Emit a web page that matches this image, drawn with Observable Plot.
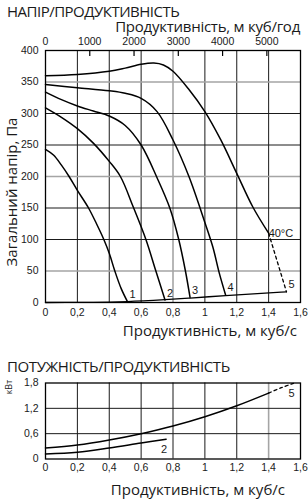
<!DOCTYPE html>
<html><head><meta charset="utf-8">
<script src="https://cdn.jsdelivr.net/npm/d3@7"></script>
<script src="https://cdn.jsdelivr.net/npm/@observablehq/plot@0.6"></script>
<style>
body{margin:0;background:#fff;}
#wrap{position:relative;width:308px;height:500px;overflow:hidden;font-family:"Open Sans",sans-serif;color:#1a1a1a;}
.t{position:absolute;white-space:nowrap;line-height:1;}
#wrap svg{position:absolute;left:0;}
</style></head><body><div id="wrap"></div>
<script>
// ---- axis / tick data ----
const flowTicks = [0, 0.2, 0.4, 0.6, 0.8, 1, 1.2, 1.4, 1.6];
const pressTicks = [0, 50, 100, 150, 200, 250, 300, 350, 400];
const hourTicks = [0, 1000, 2000, 3000, 4000, 5000];
const grayPress = [350, 200, 50];
const grayFlow = [0.8];
const powerTicks = [0, 0.6, 1.2, 1.8];
const grayFlowPower = [1.4];
const curveLabels = ["1", "2", "3", "4", "5"];
const tempLabel = "40°C";

// ---- pressure curves (m³/s, Pa) ----
const q1 = [0, 0.05, 0.1, 0.148, 0.2, 0.27, 0.32, 0.366, 0.4, 0.435, 0.475, 0.515];
const p1 = [243, 234, 218, 200, 178, 150, 125, 100, 78, 50, 22, 1];
const q2 = [0, 0.1, 0.2, 0.3, 0.4, 0.47, 0.55, 0.63, 0.69, 0.75];
const p2 = [309, 294, 276, 253, 224, 200, 152, 100, 52, 4];
const q3 = [0, 0.1, 0.2, 0.3, 0.4, 0.5, 0.6, 0.7, 0.78, 0.836, 0.878, 0.907];
const p3 = [334, 322, 312, 304, 296, 281, 250, 198, 150, 100, 50, 8];
const q4 = [0, 0.2, 0.4, 0.5, 0.6, 0.7, 0.8, 0.9, 1.0, 1.05, 1.09, 1.13];
const p4 = [346, 341, 336, 332, 324, 303, 258, 200, 127, 88, 47, 12];
const q5 = [0, 0.2, 0.4, 0.5, 0.6, 0.68, 0.74, 0.8, 0.9, 1.0, 1.1, 1.2, 1.3, 1.4];
const p5 = [360, 362, 367, 372, 378, 380, 377, 367, 338, 303, 258, 205, 152, 110];
const q5dash = [1.4, 1.512];
const p5dash = [110, 17];
const qSys = [0, 0.3, 0.515, 0.75, 0.907, 1.13, 1.512];
const pSys = [0, 0.3, 1.5, 4.5, 7, 11, 17];

// ---- power curves (m³/s, kW) ----
const qPow5 = [0, 0.2, 0.4, 0.6, 0.8, 1.0, 1.2, 1.4];
const wPow5 = [0.26, 0.33, 0.45, 0.6, 0.78, 1.0, 1.26, 1.56];
const qPow5dash = [1.4, 1.48, 1.556];
const wPow5dash = [1.56, 1.69, 1.79];
const qPow2 = [0, 0.2, 0.4, 0.6, 0.757];
const wPow2 = [0.12, 0.16, 0.26, 0.38, 0.47];

const pts = (q, p) => q.map((x, i) => ({x, y: p[i]}));
const last = (q, p) => ({x: q[q.length - 1], y: p[p.length - 1]});
const fmt = d => String(+(+d).toFixed(1)).replace(".", ",");
const tickFont = {fontFamily: "'Liberation Sans', Arial, sans-serif", fontSize: "10.5px", color: "#1a1a1a", background: "transparent", overflow: "visible"};
const lineOpt = {x: "x", y: "y", curve: "catmull-rom", stroke: "#000", strokeWidth: 1.5};

const pressCurves = [pts(q1, p1), pts(q2, p2), pts(q3, p3), pts(q4, p4), pts(q5, p5)];
const ends = [last(q1, p1), last(q2, p2), last(q3, p3), last(q4, p4), last(q5dash, p5dash)]
  .map((d, i) => ({...d, label: curveLabels[i]}));

const chart1 = Plot.plot({
  width: 308, height: 322, marginLeft: 45, marginRight: 8, marginTop: 50, marginBottom: 20,
  style: tickFont,
  x: {domain: [0, 1.6]}, y: {domain: [0, 400]},
  marks: [
    Plot.ruleX(flowTicks.slice(1, -1).filter(d => !grayFlow.includes(d)), {stroke: "#1a1a1a", strokeWidth: 1}),
    Plot.ruleX(grayFlow, {stroke: "#a5a5a5", strokeWidth: 1.6}),
    Plot.ruleY(pressTicks.slice(1, -1).filter(d => !grayPress.includes(d)), {stroke: "#1a1a1a", strokeWidth: 1}),
    Plot.ruleY(grayPress, {stroke: "#a5a5a5", strokeWidth: 1.6}),
    Plot.frame({stroke: "#000", strokeWidth: 1.3}),
    Plot.tickX(hourTicks.slice(1), {x: d => d / 3600, insetBottom: 246, stroke: "#000", strokeWidth: 1.2}),
    Plot.axisX({anchor: "top", ticks: hourTicks.map(d => d / 3600), tickFormat: d => String(Math.round(d * 3600)), tickSize: 0, tickPadding: 6, label: null}),
    Plot.axisX({anchor: "bottom", ticks: flowTicks, tickFormat: fmt, tickSize: 0, tickPadding: 6, label: null}),
    Plot.axisY({ticks: pressTicks, tickSize: 0, tickPadding: 7, label: null}),
    ...pressCurves.map(c => Plot.line(c, lineOpt)),
    Plot.line(pts(q5dash, p5dash), {x: "x", y: "y", stroke: "#000", strokeWidth: 1.3, strokeDasharray: "3,3"}),
    Plot.line(pts(qSys, pSys), {...lineOpt, curve: "monotone-x", strokeWidth: 1.3}),
    Plot.text(ends, {x: "x", y: "y", text: "label", textAnchor: "start", dx: 2, dy: -7, fontSize: 11}),
    Plot.text([last(q5, p5)], {x: "x", y: "y", text: () => tempLabel, textAnchor: "start", dx: 0, dy: 0, fontSize: 11})
  ]
});

const chart2 = Plot.plot({
  width: 308, height: 110, marginLeft: 45, marginRight: 8, marginTop: 12.5, marginBottom: 21.5,
  style: tickFont,
  x: {domain: [0, 1.6]}, y: {domain: [0, 1.8]},
  marks: [
    Plot.ruleX(flowTicks.slice(1, -1).filter(d => !grayFlowPower.includes(d)), {stroke: "#1a1a1a", strokeWidth: 1}),
    Plot.ruleX(grayFlowPower, {stroke: "#a5a5a5", strokeWidth: 1.6}),
    Plot.ruleY(powerTicks.slice(1, -1), {stroke: "#1a1a1a", strokeWidth: 1}),
    Plot.frame({stroke: "#000", strokeWidth: 1.3}),
    Plot.axisX({anchor: "bottom", ticks: flowTicks, tickFormat: fmt, tickSize: 0, tickPadding: 5, label: null}),
    Plot.axisY({ticks: powerTicks, tickFormat: fmt, tickSize: 0, tickPadding: 7, label: null}),
    Plot.line(pts(qPow5, wPow5), lineOpt),
    Plot.line(pts(qPow5dash, wPow5dash), {x: "x", y: "y", curve: "catmull-rom", stroke: "#000", strokeWidth: 1.3, strokeDasharray: "3,3"}),
    Plot.line(pts(qPow2, wPow2), lineOpt),
    Plot.text([{...last(qPow5dash, wPow5dash), label: curveLabels[4]}, {...last(qPow2, wPow2), label: curveLabels[1]}],
      {x: "x", y: "y", text: "label", textAnchor: "middle", dx: -2, dy: 10, fontSize: 11})
  ]
});

const wrap = document.getElementById("wrap");
chart1.style.top = "0px";
chart2.style.top = "370px";
wrap.appendChild(chart1);
wrap.appendChild(chart2);

function addText(txt, css) {
  const d = document.createElement("div");
  d.className = "t";
  d.textContent = txt;
  Object.assign(d.style, css);
  wrap.appendChild(d);
}
addText("НАПІР/ПРОДУКТИВНІСТЬ", {left: "7px", top: "4px", fontSize: "15px", letterSpacing: "-0.5px"});
addText("Продуктивність, м куб/год", {right: "8px", top: "19px", fontSize: "15px", letterSpacing: "-0.25px"});
addText("Загальний напір, Па", {left: "11px", top: "192px", fontSize: "15px", transform: "translate(-50%,-50%) rotate(-90deg)"});
addText("Продуктивність, м куб/с", {right: "11px", top: "323px", fontSize: "15px"});
addText("ПОТУЖНІСТЬ/ПРОДУКТИВНІСТЬ", {left: "7px", top: "359px", fontSize: "15px", letterSpacing: "-0.4px"});
addText("кВт", {left: "8px", top: "387px", fontSize: "9px", transform: "translate(-50%,-50%) rotate(-90deg)"});
addText("Продуктивність, м куб/с", {right: "23px", top: "482px", fontSize: "15px"});
</script>
</body></html>
